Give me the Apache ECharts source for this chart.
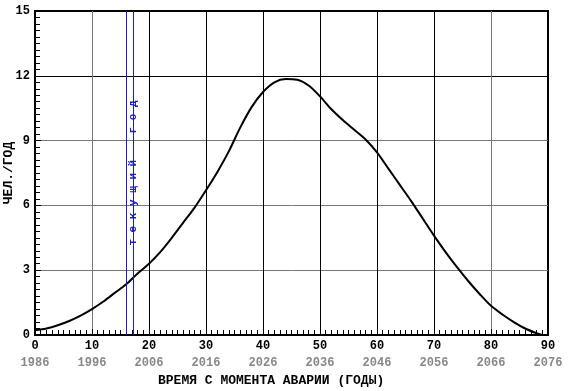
<!DOCTYPE html>
<html>
<head>
<meta charset="utf-8">
<script src="https://cdn.jsdelivr.net/npm/echarts@6/dist/echarts.min.js"></script>
<style>
  html, body { margin: 0; padding: 0; background: #fff; }
  #chart { width: 568px; height: 391px; }
</style>
</head>
<body>
<div id="chart"></div>
<script>
// годы с момента аварии
var years = [0, 2, 4, 6, 8, 10, 12, 14, 16, 18, 20, 22, 24, 26, 28, 30, 32, 34, 36, 38, 40, 42, 44, 46,
  48, 50, 52, 54, 56, 58, 60, 62, 64, 66, 68, 70, 72, 74, 76, 78, 80, 82, 84, 86, 88, 89];
// чел./год
var rate = [0.22, 0.3, 0.45, 0.65, 0.9, 1.2, 1.55, 1.95, 2.35, 2.85, 3.3, 3.85, 4.5, 5.2, 5.9, 6.7, 7.55, 8.5, 9.6, 10.55, 11.25, 11.7, 11.85, 11.82,
  11.55, 11.05, 10.45, 9.95, 9.5, 9.05, 8.45, 7.7, 6.95, 6.2, 5.4, 4.6, 3.85, 3.15, 2.5, 1.9, 1.35, 0.95, 0.6, 0.3, 0.08, 0.0];
var startYear = 1986;
var currentYearLines = [16, 17.3];
var currentYearText = 'т е к у щ и й    г о д';

var mono = '"Liberation Mono", "DejaVu Sans Mono", monospace';
var chart = echarts.init(document.getElementById('chart'));

chart.setOption({
  animation: false,
  title: {
    text: 'ВРЕМЯ С МОМЕНТА АВАРИИ (ГОДЫ)',
    left: 158,
    top: 374,
    padding: 0,
    textStyle: { fontFamily: mono, fontSize: 13, fontWeight: 'bold', color: '#000' }
  },
  grid: {
    left: 35, right: 20, top: 11, bottom: 56,
    containLabel: false,
    outerBoundsMode: 'none',
    show: true, borderColor: '#000', borderWidth: 2
  },
  xAxis: [{
    type: 'value',
    min: 0, max: 90, interval: 10,
    axisLine: { lineStyle: { color: '#000', width: 2 } },
    axisTick: { inside: true, length: 6, lineStyle: { color: '#000' } },
    minorTick: { show: true, splitNumber: 10, length: 5, lineStyle: { color: '#000' } },
    splitLine: { show: true, lineStyle: { color: ['#000', '#777', '#000', '#000', '#000', '#000', '#000', '#000', '#777', '#000'], width: 1 } },
    axisLabel: { margin: 5, fontFamily: mono, fontSize: 12, fontWeight: 'bold', color: '#000' }
  }, {
    type: 'value',
    position: 'bottom',
    offset: 17,
    min: startYear, max: startYear + 90, interval: 10,
    axisLine: { show: false },
    axisTick: { show: false },
    splitLine: { show: false },
    axisLabel: {
      margin: 5, fontFamily: mono, fontSize: 12, fontWeight: 'bold', color: '#888',
      formatter: function (v) { return String(v); }
    }
  }],
  yAxis: {
    type: 'value',
    min: 0, max: 15, interval: 3,
    name: 'ЧЕЛ./ГОД',
    nameLocation: 'middle',
    nameGap: 20,
    nameMoveOverlap: false,
    nameTextStyle: { fontFamily: mono, fontSize: 13, fontWeight: 'bold', color: '#000' },
    axisLine: { show: true, lineStyle: { color: '#000', width: 2 } },
    axisTick: { show: true, inside: true, length: 6, lineStyle: { color: '#000' } },
    minorTick: { show: true, splitNumber: 10, length: 5, lineStyle: { color: '#000' } },
    splitLine: { show: true, lineStyle: { color: ['#000', '#777', '#777', '#777', '#000', '#000'], width: 1 } },
    axisLabel: { margin: 5, fontFamily: mono, fontSize: 12, fontWeight: 'bold', color: '#000' }
  },
  series: [{
    type: 'line',
    xAxisIndex: 0,
    data: years.map(function (y, i) { return [y, rate[i]]; }),
    smooth: 0.3,
    symbol: 'none',
    lineStyle: { color: '#000', width: 2 },
    markLine: {
      silent: true,
      symbol: 'none',
      animation: false,
      lineStyle: { color: '#1c1cc8', width: 1, type: 'solid' },
      label: { show: false },
      data: currentYearLines.map(function (v) { return { xAxis: v }; }).concat([{
        xAxis: (currentYearLines[0] + currentYearLines[1]) / 2,
        lineStyle: { color: 'rgba(0,0,0,0)' },
        label: {
          show: true,
          position: 'middle',
          distance: -9,
          formatter: currentYearText,
          fontFamily: mono, fontSize: 11, fontWeight: 'bold', color: '#1c1cc8'
        }
      }])
    }
  }]
});
</script>
</body>
</html>
